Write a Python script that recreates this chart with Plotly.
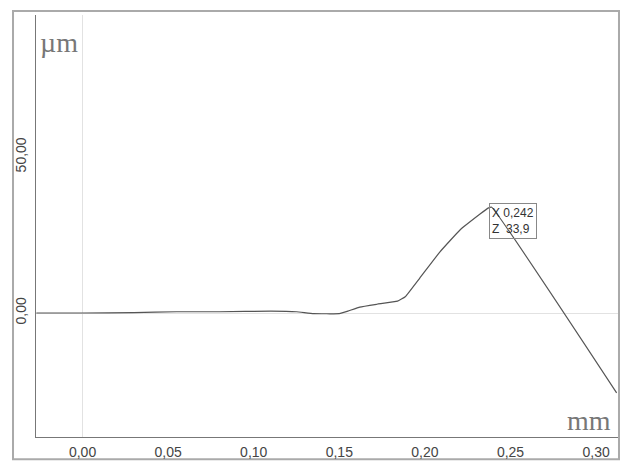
import plotly.graph_objects as go

# Profile data (mm, µm)
x_mm = [-0.027, 0.0, 0.03, 0.055, 0.08, 0.11, 0.125, 0.135, 0.150, 0.155,
        0.162, 0.172, 0.184, 0.1885, 0.197, 0.2088, 0.2205, 0.2322, 0.2369, 0.239, 0.312]
z_um = [0.0, 0.0, 0.1, 0.4, 0.4, 0.6, 0.4, -0.2, -0.2, 0.6,
        1.9, 2.8, 3.8, 5.2, 11.2, 19.6, 26.6, 31.7, 33.6, 33.9, -25.6]

x_ticks = [0.00, 0.05, 0.10, 0.15, 0.20, 0.25, 0.30]
y_ticks = [0.0, 50.0]

peak_label_x = "0,242"
peak_label_z = "33,9"
peak_x = 0.239
peak_z = 33.9

fig = go.Figure()
fig.add_trace(go.Scatter(x=x_mm, y=z_um, mode="lines",
                         line=dict(color="#555555", width=1.2, shape="spline", smoothing=0.3),
                         hoverinfo="skip", showlegend=False))

tickfont = dict(family="Liberation Sans, Arial, sans-serif", size=14, color="#444444")

fig.update_layout(
    width=620, height=463,
    margin=dict(l=36, r=2, t=15, b=26, autoexpand=False),
    paper_bgcolor="white", plot_bgcolor="white",
    separators=",.",
    showlegend=False,
    xaxis=dict(range=[-0.0272, 0.3128], tickvals=x_ticks, tickformat=".2f",
               showgrid=False, zeroline=True, zerolinecolor="#e2e2e2", zerolinewidth=1,
               showline=True, linecolor="#777777", linewidth=1, ticks="",
               tickfont=tickfont, ticklabelstandoff=2),
    yaxis=dict(range=[-39.74, 95.5], tickvals=y_ticks, tickformat=".2f",
               showgrid=False, zeroline=True, zerolinecolor="#e2e2e2", zerolinewidth=1,
               showline=True, linecolor="#777777", linewidth=1, ticks="",
               tickangle=-90, tickfont=tickfont, ticklabelstandoff=3),
)

# outer frame
fig.add_shape(type="rect", xref="paper", yref="paper",
              x0=-0.0395, x1=1.0017, y0=-0.0530, y1=1.0095,
              line=dict(color="#aaaaaa", width=2), layer="below")

# unit labels
fig.add_annotation(xref="paper", yref="paper", x=0.0, y=(437 - 42) / 422,
                   xanchor="left", yanchor="middle", showarrow=False,
                   text="µm", bgcolor="white", borderpad=3,
                   font=dict(family="Liberation Serif, Times New Roman, serif", size=28, color="#777777"))
fig.add_annotation(xref="paper", yref="paper", x=(613 - 36) / 582, y=(437 - 420) / 422,
                   xanchor="right", yanchor="middle", showarrow=False,
                   text="mm",
                   font=dict(family="Liberation Serif, Times New Roman, serif", size=28, color="#777777"))

# peak marker box
fig.add_annotation(x=peak_x, y=peak_z, xref="x", yref="y",
                   xanchor="left", yanchor="top", showarrow=False,
                   xshift=-3, yshift=4, align="left",
                   text="X\u00a0" + peak_label_x + "<br>Z\u00a0\u00a0" + peak_label_z,
                   bordercolor="#888888", borderwidth=1, borderpad=2, bgcolor="rgba(255,255,255,0)",
                   font=dict(family="Liberation Sans, Arial, sans-serif", size=12, color="#333333"))

fig.write_html("out.html", config={"displayModeBar": False},
               post_script="document.body.style.margin='0';document.body.style.overflow='hidden';")
